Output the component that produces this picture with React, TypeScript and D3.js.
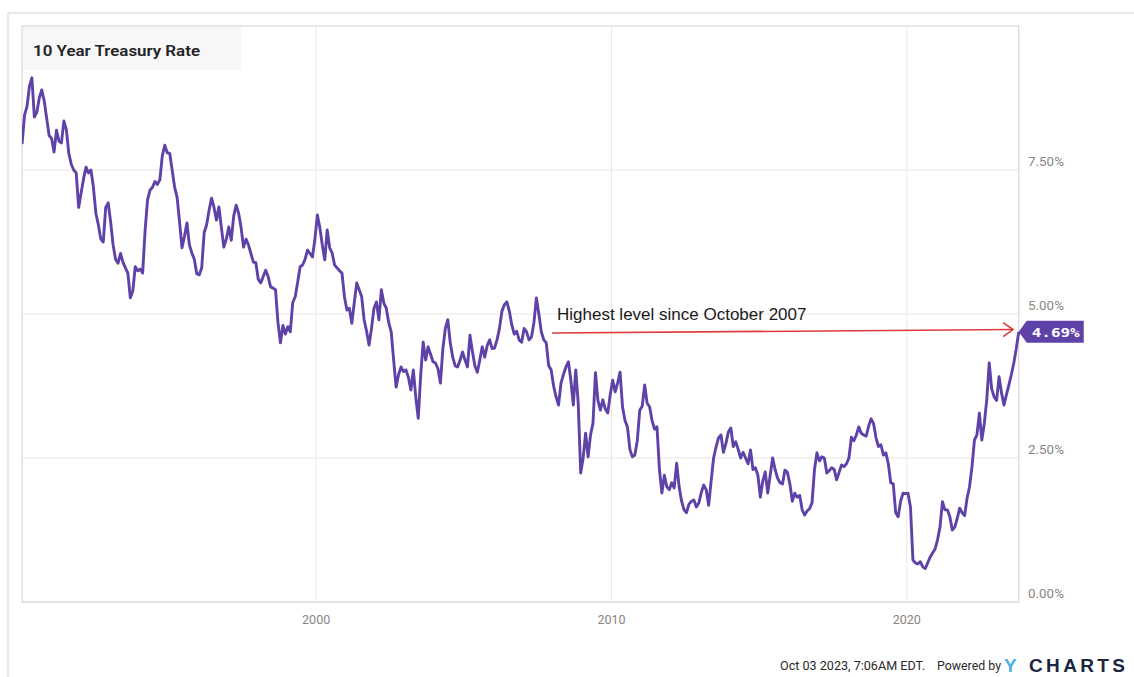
import React from "react";
import * as d3 from "d3";

// ---- Data: monthly 10 Year Treasury Rate (%) ----
const r1990 = [7.95, 8.45, 8.6, 8.95, 9.1, 8.42, 8.5, 8.75, 8.89, 8.7, 8.4, 8.1];
const r1991 = [8.05, 7.81, 8.19, 8.0, 7.97, 8.35, 8.2, 7.79, 7.6, 7.5, 7.45, 6.85];
const r1992 = [7.1, 7.35, 7.55, 7.45, 7.5, 7.2, 6.75, 6.55, 6.3, 6.25, 6.85, 6.93];
const r1993 = [6.6, 6.2, 5.95, 5.88, 6.05, 5.9, 5.8, 5.71, 5.28, 5.4, 5.82, 5.75];
const r1994 = [5.78, 5.71, 6.45, 6.98, 7.15, 7.2, 7.3, 7.25, 7.33, 7.75, 7.93, 7.8];
const r1995 = [7.79, 7.5, 7.2, 7.03, 6.6, 6.15, 6.35, 6.58, 6.2, 6.06, 5.95, 5.7];
const r1996 = [5.68, 5.8, 6.41, 6.55, 6.8, 7.01, 6.85, 6.63, 6.86, 6.5, 6.16, 6.3];
const r1997 = [6.51, 6.28, 6.7, 6.89, 6.75, 6.5, 6.16, 6.3, 6.2, 6.05, 5.9, 5.89];
const r1998 = [5.6, 5.54, 5.65, 5.76, 5.65, 5.47, 5.45, 5.42, 4.85, 4.5, 4.8, 4.65];
const r1999 = [4.78, 4.69, 5.2, 5.3, 5.55, 5.82, 5.85, 5.95, 6.11, 6.05, 5.99, 6.3];
const r2000 = [6.72, 6.5, 6.2, 5.94, 6.46, 6.15, 6.06, 5.85, 5.8, 5.75, 5.71, 5.3];
const r2001 = [5.07, 5.1, 4.84, 5.2, 5.54, 5.42, 5.3, 4.9, 4.7, 4.46, 4.75, 5.1];
const r2002 = [5.21, 4.9, 5.42, 5.19, 5.1, 4.85, 4.69, 4.2, 3.73, 3.95, 4.08, 4.0];
const r2003 = [4.03, 3.9, 3.68, 4.03, 3.55, 3.19, 3.95, 4.51, 4.2, 4.43, 4.3, 4.17];
const r2004 = [4.15, 4.05, 3.8, 4.4, 4.75, 4.9, 4.5, 4.25, 4.1, 4.08, 4.2, 4.34];
const r2005 = [4.2, 4.08, 4.63, 4.35, 4.1, 3.99, 4.2, 4.43, 4.25, 4.45, 4.55, 4.4];
const r2006 = [4.41, 4.55, 4.75, 5.05, 5.16, 5.21, 5.05, 4.81, 4.65, 4.7, 4.55, 4.51];
const r2007 = [4.75, 4.69, 4.55, 4.6, 4.85, 5.28, 5.0, 4.69, 4.55, 4.5, 4.1, 4.03];
const r2008 = [3.75, 3.56, 3.42, 3.8, 3.95, 4.08, 4.17, 3.85, 3.42, 4.03, 3.45, 2.24];
const r2009 = [2.5, 2.93, 2.52, 2.9, 3.11, 3.98, 3.5, 3.33, 3.51, 3.35, 3.28, 3.6];
const r2010 = [3.85, 3.65, 3.8, 3.99, 3.39, 3.15, 3.04, 2.65, 2.52, 2.55, 2.8, 3.33];
const r2011 = [3.4, 3.77, 3.45, 3.39, 3.15, 3.0, 3.04, 2.3, 1.89, 2.2, 2.0, 1.95];
const r2012 = [2.07, 1.98, 2.41, 2.0, 1.75, 1.6, 1.55, 1.7, 1.75, 1.77, 1.65, 1.72];
const r2013 = [1.9, 2.03, 1.95, 1.68, 2.1, 2.5, 2.69, 2.85, 2.9, 2.6, 2.75, 2.95];
const r2014 = [3.02, 2.7, 2.78, 2.65, 2.5, 2.6, 2.5, 2.4, 2.64, 2.3, 2.33, 2.2];
const r2015 = [1.82, 2.1, 2.26, 1.89, 2.2, 2.5, 2.3, 2.15, 2.07, 2.05, 2.29, 2.25];
const r2016 = [2.05, 1.75, 1.89, 1.82, 1.85, 1.6, 1.51, 1.58, 1.62, 1.72, 2.3, 2.59];
const r2017 = [2.45, 2.52, 2.5, 2.24, 2.28, 2.33, 2.3, 2.12, 2.25, 2.38, 2.35, 2.4];
const r2018 = [2.5, 2.86, 2.8, 2.9, 3.04, 2.93, 2.9, 2.88, 3.05, 3.18, 3.1, 2.85];
const r2019 = [2.7, 2.73, 2.55, 2.59, 2.4, 2.07, 2.05, 1.55, 1.48, 1.75, 1.89, 1.88];
const r2020 = [1.89, 1.65, 0.73, 0.68, 0.66, 0.7, 0.61, 0.58, 0.68, 0.78, 0.85, 0.92];
const r2021 = [1.08, 1.3, 1.74, 1.6, 1.6, 1.48, 1.25, 1.3, 1.45, 1.63, 1.55, 1.5];
const r2022 = [1.8, 2.0, 2.35, 2.81, 2.9, 3.28, 2.81, 3.1, 3.51, 4.15, 3.7, 3.56];
const r2023 = [3.5, 3.91, 3.63, 3.42, 3.6, 3.77, 3.95, 4.15, 4.4, 4.69];

const yearlyRates: [number, number[]][] = [
  [1990, r1990], [1991, r1991], [1992, r1992], [1993, r1993], [1994, r1994],
  [1995, r1995], [1996, r1996], [1997, r1997], [1998, r1998], [1999, r1999],
  [2000, r2000], [2001, r2001], [2002, r2002], [2003, r2003], [2004, r2004],
  [2005, r2005], [2006, r2006], [2007, r2007], [2008, r2008], [2009, r2009],
  [2010, r2010], [2011, r2011], [2012, r2012], [2013, r2013], [2014, r2014],
  [2015, r2015], [2016, r2016], [2017, r2017], [2018, r2018], [2019, r2019],
  [2020, r2020], [2021, r2021], [2022, r2022], [2023, r2023],
];

const xTickYears = [2000, 2010, 2020];
const yTickValues = [0, 2.5, 5, 7.5];
const chartTitle = "10 Year Treasury Rate";
const annotationText = "Highest level since October 2007";
const annotationFrom: [number, number] = [2007.99, 4.67];
const annotationTo: [number, number] = [2023.6, 4.73];
const footerDate = "Oct 03 2023, 7:06AM EDT.";

// mid-month positions
const points = yearlyRates.flatMap(([yr, vals]) =>
  vals.map((v, m) => ({ t: yr + (m + 0.5) / 12, v }))
);

const W = 1134;
const H = 677;
const plot = { left: 22, right: 1018.7, top: 26, bottom: 602 };
const PURPLE = "#5f42a8";

export default function App() {
  const x = d3.scaleLinear().domain([1990.04, 2023.79]).range([plot.left, plot.right]);
  const y = d3.scaleLinear().domain([0, 10]).range([plot.bottom, plot.top]);
  const line = d3
    .line<{ t: number; v: number }>()
    .x((d) => x(d.t))
    .y((d) => y(d.v))
    .curve(d3.curveLinear);

  const last = points[points.length - 1];
  const tipX = x(last.t);
  const tipY = y(last.v);

  const ax1 = x(annotationFrom[0]);
  const ay1 = y(annotationFrom[1]);
  const ax2 = x(annotationTo[0]);
  const ay2 = y(annotationTo[1]);

  return (
    <svg
      width={W}
      height={H}
      style={{ position: "absolute", left: 0, top: 0, background: "#fff" }}
      fontFamily="Roboto, 'Liberation Sans', Arial, sans-serif"
    >
      <defs>
        <clipPath id="plotClip">
          <rect x={plot.left} y={plot.top - 10} width={plot.right - plot.left + 2} height={plot.bottom - plot.top + 10} />
        </clipPath>
      </defs>
      <rect x={0} y={0} width={W} height={H} fill="#fff" />
      {/* outer frame */}
      <line x1={8} y1={13} x2={W} y2={13} stroke="#e2e0de" strokeWidth={1.5} />
      <line x1={8} y1={13} x2={8} y2={H} stroke="#e2e0de" strokeWidth={1.5} />

      {/* grid */}
      {yTickValues.map((v) => (
        <line key={"gy" + v} x1={plot.left} x2={plot.right} y1={y(v)} y2={y(v)} stroke="#e8e6e4" strokeWidth={1} />
      ))}
      {xTickYears.map((t) => (
        <line key={"gx" + t} x1={x(t)} x2={x(t)} y1={plot.top} y2={plot.bottom} stroke="#ebe9e7" strokeWidth={1} />
      ))}
      <rect
        x={plot.left}
        y={plot.top}
        width={plot.right - plot.left}
        height={plot.bottom - plot.top}
        fill="none"
        stroke="#dcd8d6"
        strokeWidth={1.2}
      />

      {/* title box */}
      <rect x={plot.left + 1} y={plot.top + 1} width={218} height={43} fill="#f7f7f7" />
      <text
        x={33}
        y={56}
        fontSize={15}
        fontWeight={600}
        fill="#222"
        textLength={167}
        lengthAdjust="spacingAndGlyphs"
      >
        {chartTitle}
      </text>

      {/* series line */}
      <path
        d={line(points) || ""}
        fill="none"
        stroke={PURPLE}
        strokeWidth={2.9}
        strokeLinejoin="round"
        clipPath="url(#plotClip)"
      />

      {/* y axis labels */}
      {yTickValues.map((v) => (
        <text key={"yl" + v} x={1028} y={y(v) - 4} fontSize={12} fill="#8a8583" textLength={36} lengthAdjust="spacingAndGlyphs">
          {v.toFixed(2) + "%"}
        </text>
      ))}
      {/* x axis labels */}
      {xTickYears.map((t) => (
        <text key={"xl" + t} x={x(t)} y={624} fontSize={12.5} fill="#8a8583" textAnchor="middle">
          {t}
        </text>
      ))}

      {/* annotation */}
      <text x={557} y={320} fontSize={17} fill="#1a1a1a" fontFamily="'Liberation Sans', Arial, sans-serif">
        {annotationText}
      </text>
      <line x1={ax1} y1={ay1} x2={ax2} y2={ay2} stroke="#e0393a" strokeWidth={1.6} />
      <polyline
        points={`${ax2 - 10},${ay2 - 7} ${ax2},${ay2} ${ax2 - 10},${ay2 + 7}`}
        fill="none"
        stroke="#e0393a"
        strokeWidth={1.6}
      />

      {/* last value tag */}
      <path
        d={`M${tipX},${tipY} L${tipX + 8},${tipY - 11} L${tipX + 65},${tipY - 11} L${tipX + 65},${tipY + 11} L${tipX + 8},${tipY + 11} Z`}
        fill={PURPLE}
      />
      <text
        x={tipX + 37}
        y={tipY + 5}
        fontSize={13}
        fontWeight={700}
        fill="#fff"
        textAnchor="middle"
        fontFamily="'DejaVu Sans Mono', monospace"
        textLength={48}
        lengthAdjust="spacingAndGlyphs"
      >
        {last.v.toFixed(2) + "%"}
      </text>

      {/* footer */}
      <text x={780} y={670} fontSize={12} fill="#2a2a2a" textLength={145} lengthAdjust="spacingAndGlyphs">
        {footerDate}
      </text>
      <text x={937} y={670} fontSize={12} fill="#2a2a2a" textLength={64} lengthAdjust="spacingAndGlyphs">
        Powered by
      </text>
      <text x={1004} y={672} fontSize={19} fontWeight={700} fill="#4db2e6" fontFamily="'Liberation Sans', Arial, sans-serif">
        Y
      </text>
      <text
        x={1029}
        y={672}
        fontSize={19}
        fontWeight={700}
        fill="#1b2540"
        fontFamily="'Liberation Sans', Arial, sans-serif"
        textLength={96}
        lengthAdjust="spacing"
      >
        CHARTS
      </text>
    </svg>
  );
}
